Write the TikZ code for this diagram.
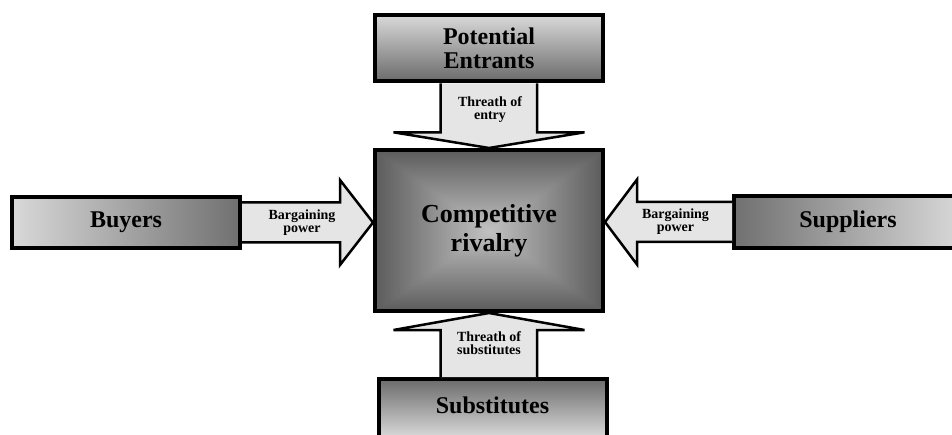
\documentclass[tikz,border=0pt]{standalone}
\usepackage{fontspec}
\setmainfont{Liberation Serif}
\begin{document}
\begin{tikzpicture}[x=1pt, y=-1pt,
	force/.style={draw=black, line width=4pt, inner sep=0pt, minimum width=228pt, align=center, font=\bfseries\fontsize{24}{24}\selectfont},
	hub/.style={force, minimum height=161pt, font=\bfseries\fontsize{26}{29}\selectfont,
		path picture={
			\path (path picture bounding box.north west) coordinate (nw) (path picture bounding box.north east) coordinate (ne)
			      (path picture bounding box.south west) coordinate (sw) (path picture bounding box.south east) coordinate (se)
			      (path picture bounding box.center) coordinate (mid);
			\shade[inner color=black!30, outer color=black!60] (nw) rectangle (se);
			\shade[top color=black!64, bottom color=black!24]    (nw) -- (ne) -- (mid) -- cycle;
			\shade[bottom color=black!64, top color=black!24]    (sw) -- (se) -- (mid) -- cycle;
			\shade[left color=black!64, right color=black!24]    (nw) -- (sw) -- (mid) -- cycle;
			\shade[right color=black!64, left color=black!24]    (ne) -- (se) -- (mid) -- cycle;
		}},
	fatarrow/.style={draw=black, line width=2.5pt, fill=black!10},
	arrowtext/.style={align=center, inner sep=0pt, font=\bfseries\fontsize{14}{13}\selectfont}]
	\useasboundingbox (0,0) rectangle (952,435);
	% the five forces
	\node[hub]                                                                   (rival)     at (489,230.5) {Competitive\\rivalry};
	\node[force, minimum height=66pt, top color=black!15, bottom color=black!58]  (entrants)  at (489,48.3)  {Potential\\Entrants};
	\node[force, minimum height=58pt, top color=black!58, bottom color=black!15, text depth=6pt] (subst) at (492.5,408) {Substitutes};
	\node[force, minimum height=51pt, left color=black!15, right color=black!56]  (buyers)    at (126,222.5) {Buyers};
	\node[force, minimum height=52pt, left color=black!56, right color=black!15]  (suppliers) at (848,222)   {Suppliers};
	% block arrows
	\draw[fatarrow] (entrants.south) ++(-48.5,0) -- ++(0,49) -- ++(-47,0) -- (rival.north) -- ++(95.5,-15.7) -- ++(-47.5,0) -- ++(0,-49);
	\draw[fatarrow] (rival.south |- subst.north) ++(-48.5,0) -- ++(0,-47) -- ++(-47,0) -- (rival.south) -- ++(95.5,17) -- ++(-47.5,0) -- ++(0,47);
	\draw[fatarrow] (buyers.east) ++(0,-20) -- ++(98,0) -- ++(0,-22.5) -- (rival.west |- buyers.east) -- ++(-33,42.5) -- ++(0,-22.5) -- ++(-98,0);
	\draw[fatarrow] (suppliers.west) ++(0,-20) -- ++(-95,0) -- ++(0,-22.5) -- (rival.east |- suppliers.west) -- ++(32,42.5) -- ++(0,-22.5) -- ++(95,0);
	\node[arrowtext] (entry)  at (490,110)   {Threath of\\entry};
	\node[arrowtext] (subs)   at (489,343)   {Threath of\\substitutes};
	\node[arrowtext] (buypow) at (302,222.5) {Bargaining\\power};
	\node[arrowtext] (suppow) at (675.5,222) {Bargaining\\power};
\end{tikzpicture}
\end{document}
